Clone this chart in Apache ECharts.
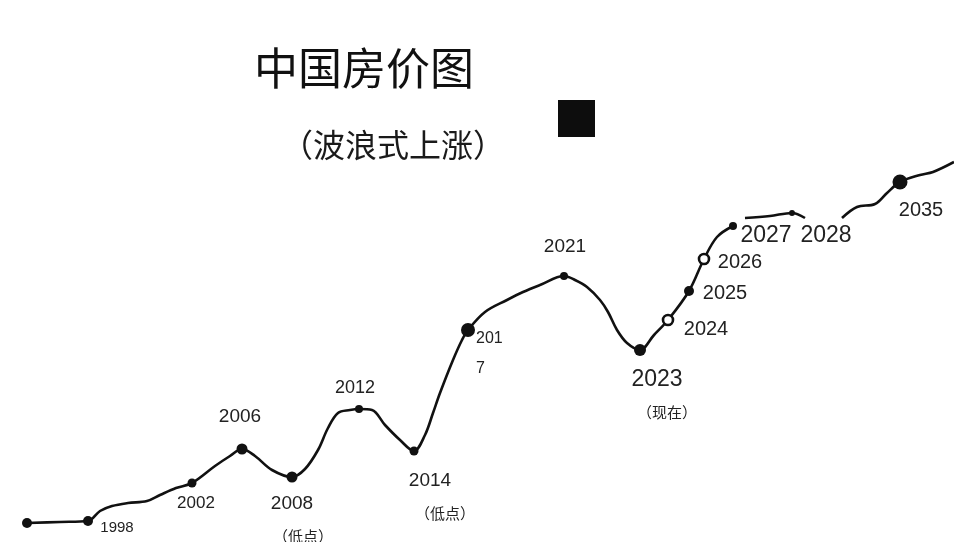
<!DOCTYPE html>
<html><head><meta charset="utf-8">
<script src="https://cdn.jsdelivr.net/npm/echarts@6/dist/echarts.min.js"></script>
<style>html,body{margin:0;background:#fff}#c{width:954px;height:542px}</style>
</head><body><div id="c"></div>
<script>
// Hand-drawn curve: horizontal progress (0-95.4) and price level (0-54.2); null = pen lifted
const curveX = [2.7, 6.0, 8.8, 10.0, 11.2, 12.8, 14.7, 16.0, 17.6, 19.2, 21.5, 23.0, 24.2, 25.5, 27.2, 29.2, 30.5, 31.8, 32.8, 33.8, 35.0, 35.9, 37.2, 38.5, 40.0, 41.4, 42.5, 43.3, 44.0, 45.3, 46.2, 46.8, 48.5, 50.7, 52.3, 54.0, 56.4, 57.5, 58.7, 60.0, 60.8, 61.7, 62.7, 64.0, 65.4, 66.8, 68.9, 70.4, 71.7, 73.3, null, 74.5, 77.0, 79.2, 80.5, null, 84.2, 85.7, 87.5, 88.7, 90.0, 92.0, 93.3, 95.4];
const curveY = [1.9, 2.0, 2.1, 3.1, 3.6, 3.9, 4.1, 4.7, 5.4, 5.9, 7.6, 8.6, 9.3, 8.6, 7.2, 6.5, 7.3, 9.2, 11.4, 12.9, 13.2, 13.3, 13.2, 11.7, 10.2, 9.1, 10.7, 12.9, 14.9, 18.2, 20.2, 21.2, 23.0, 24.2, 25.0, 25.7, 26.6, 26.2, 25.5, 24.2, 23.0, 21.2, 19.9, 19.2, 20.7, 22.2, 25.1, 28.3, 30.5, 31.6, null, 32.4, 32.6, 32.9, 32.4, null, 32.4, 33.5, 33.8, 34.9, 36.0, 36.7, 37.0, 38.0];

// Marked years on the curve
const keyYears = ['start', '1998', '2002', '2006', '2008', '2012', '2014', '2017', '2021', '2023', '2024', '2025', '2026', '2027', '2028', '2035'];
const keyText  = ['', '1998', '2002', '2006', '2008', '2012', '2014', '201\n7', '2021', '2023', '2024', '2025', '2026', '2027', '2028', '2035'];
const keyX = [2.7, 8.8, 19.2, 24.2, 29.2, 35.9, 41.4, 46.8, 56.4, 64.0, 66.8, 68.9, 70.4, 73.3, 79.2, 90.0];
const keyY = [1.9, 2.1, 5.9, 9.3, 6.5, 13.3, 9.1, 21.2, 26.6, 19.2, 22.2, 25.1, 28.3, 31.6, 32.9, 36.0];
const notes = { '2008': '（低点）', '2014': '（低点）', '2023': '（现在）' };

const titleText = '中国房价图';
const subtitleText = '（波浪式上涨）';

const FONT = "'Liberation Sans','Noto Sans CJK SC',sans-serif";
const CJK = "'Noto Sans CJK SC',sans-serif";
const INK = '#111';
const TXT = '#222';

// Presentation per marker (styles/positions only)
const style = {
  'start': { size: 10, fs: 15, off: [0, 0] },
  '1998': { size: 10, fs: 15, off: [29, 7] },
  '2002': { size: 9, fs: 17, off: [4, 20] },
  '2006': { size: 11, fs: 19, off: [-2, -32] },
  '2008': { size: 11, fs: 19, off: [0, 43], note: 'n22' },
  '2012': { size: 8, fs: 18, off: [-4, -21] },
  '2014': { size: 9, fs: 19, off: [16, 46], note: 'n30' },
  '2017': { size: 14, fs: 16, off: [8, 24], align: 'left', lh: 30 },
  '2021': { size: 8, fs: 19, off: [1, -29] },
  '2023': { size: 12, fs: 23, off: [17, 46], note: 'n20' },
  '2024': { size: 10, fs: 20, off: [38, 9], hollow: true },
  '2025': { size: 10, fs: 20, off: [36, 2] },
  '2026': { size: 10, fs: 20, off: [36, 3], hollow: true },
  '2027': { size: 8, fs: 23, off: [33, 10] },
  '2028': { size: 6, fs: 23, off: [34, 23] },
  '2035': { size: 15, fs: 20, off: [21, 28] }
};

const curveData = curveX.map((x, i) => (x === null ? ['-', '-'] : [x, curveY[i]]));

const keyData = keyYears.map((k, i) => {
  const s = style[k];
  const lab = {
    show: keyText[i] !== '',
    position: 'inside',
    offset: s.off,
    fontSize: s.fs,
    color: TXT,
    align: s.align || 'center',
    verticalAlign: 'middle'
  };
  if (s.lh) lab.lineHeight = s.lh;
  return {
    value: [keyX[i], keyY[i]],
    symbolSize: s.size,
    itemStyle: s.hollow ? { color: '#fff', borderColor: INK, borderWidth: 2.6, opacity: 1 } : { color: INK, opacity: 1 },
    label: lab
  };
});

const noteRich = (pad) => ({ fontSize: 15, lineHeight: 33, fontFamily: CJK, color: TXT, padding: [0, 0, 0, pad] });

const chart = echarts.init(document.getElementById('c'));
chart.setOption({
  backgroundColor: '#ffffff',
  animation: false,
  grid: { left: 0, right: 0, top: 0, bottom: 0 },
  xAxis: { type: 'value', min: 0, max: 95.4, show: false },
  yAxis: { type: 'value', min: 0, max: 54.2, show: false },
  series: [
    {
      type: 'line',
      data: curveData,
      smooth: 0.35,
      connectNulls: false,
      symbol: 'none',
      silent: true,
      lineStyle: { color: INK, width: 2.6 }
    },
    {
      type: 'scatter',
      data: keyData,
      symbol: 'circle',
      silent: true,
      z: 3,
      itemStyle: { opacity: 1 },
      label: {
        color: TXT,
        opacity: 1,
        fontFamily: FONT,
        formatter: (p) => {
          const k = keyYears[p.dataIndex];
          const t = keyText[p.dataIndex];
          if (notes[k]) return '{a|' + t + '}\n{' + style[k].note + '|' + notes[k] + '}';
          return t;
        },
        rich: {
          a: { lineHeight: 33, fontFamily: FONT, color: TXT },
          n22: noteRich(22),
          n30: noteRich(30),
          n20: noteRich(20)
        }
      }
    }
  ],
  graphic: [
    {
      type: 'text', x: 364, y: 68,
      style: { text: titleText, fontSize: 44, fontFamily: CJK, fill: INK, align: 'center', verticalAlign: 'middle' }
    },
    {
      type: 'text', x: 393, y: 145,
      style: { text: subtitleText, fontSize: 32, fontFamily: CJK, fill: '#1a1a1a', align: 'center', verticalAlign: 'middle' }
    },
    {
      type: 'rect', shape: { x: 558, y: 100, width: 37, height: 37 },
      style: { fill: '#0d0d0d' }
    }
  ]
});
</script>
</body></html>
